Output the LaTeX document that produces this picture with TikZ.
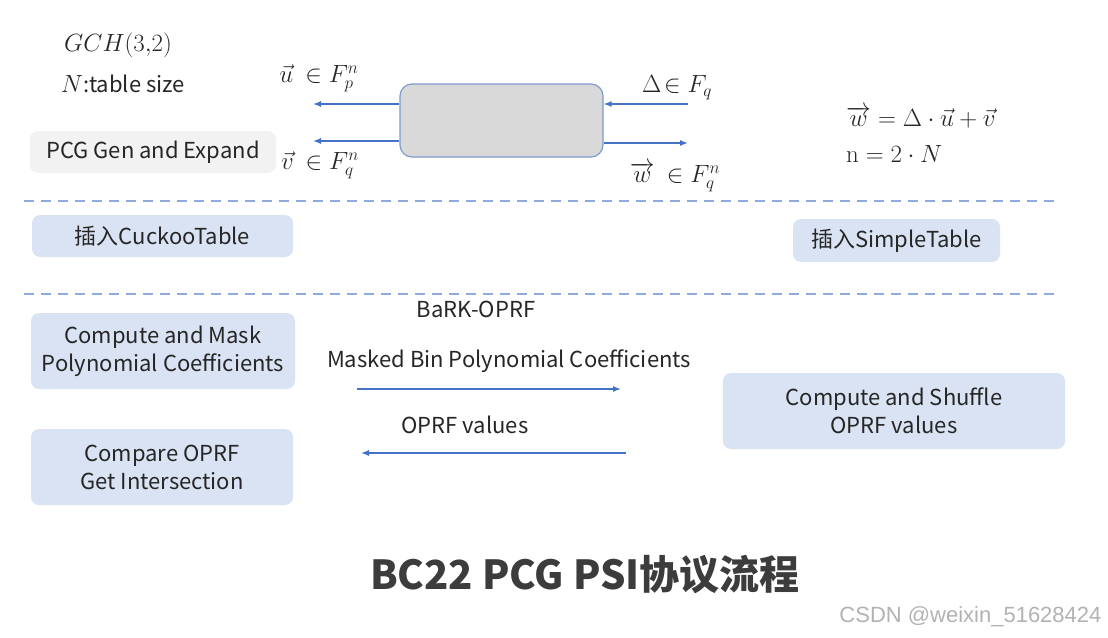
\documentclass[tikz,border=0pt]{standalone}
\usepackage{amsmath,amssymb,bm}
\usepackage[no-math]{fontspec}
\setmainfont{Noto Sans CJK SC}
\newfontfamily\markfont{Liberation Sans}
\usetikzlibrary{arrows.meta,positioning}
\definecolor{flowblue}{HTML}{4472C4}
\definecolor{lineblue}{HTML}{8FAADC}
\definecolor{edgeblue}{HTML}{7F9BCB}
\definecolor{boxblue}{HTML}{DAE3F3}
\definecolor{boxgray}{HTML}{F2F2F2}
\definecolor{pcggray}{HTML}{D9D9D9}
\definecolor{ink}{HTML}{262626}

\begin{document}
\begin{tikzpicture}[x=1pt,y=-1pt,>={Latex[length=8pt,width=6pt]},
  every node/.style={text=ink,font=\fontsize{22}{28}\selectfont},
  box/.style={fill=boxblue,rounded corners=8pt,inner sep=0pt,align=center},
  lab/.style={inner sep=1pt,font=\fontsize{23}{28}\selectfont},
  flow/.style={->,draw=flowblue,line width=1.3pt},
  sep/.style={draw=lineblue,line width=1.4pt,dash pattern=on 10pt off 7pt}]
\useasboundingbox (0,0) rectangle (1108,637);
% PCG part
\node[lab] (gch) at (118,45) {$GCH(3{,}2)$};
\node[lab] (tsize) at (123,84) {$N$\fontsize{22}{28}\selectfont:table size};
\node[box,fill=boxgray,minimum width=246pt,minimum height=42pt] (gen) at (153,152) {PCG Gen and Expand};
\node[box,fill=pcggray,draw=edgeblue,line width=1.2pt,rounded corners=12pt,minimum width=203pt,minimum height=73pt] (pcg) at (501.5,120.5) {};
\coordinate (uend) at (313,104);
\coordinate (vend) at (313,141);
\coordinate (dstart) at (688,104);
\coordinate (wend) at (688,143);
\draw[flow] (pcg.west |- uend)--(uend);
\draw[flow] (pcg.west |- vend)--(vend);
\draw[flow] (dstart)--(pcg.east |- dstart);
\draw[flow] (pcg.east |- wend)--(wend);
\node[lab] (ulab) at (319,78) {$\vec{u}\ \in F_p^n$};
\node[lab] (vlab) at (320,165) {$\vec{v}\ \in F_q^n$};
\node[lab] (dlab) at (677,88) {$\Delta\!\in F_q$};
\node[lab] (wlab) at (675,177) {$\overrightarrow{w}\ \in F_q^n$};
\node[lab,anchor=west] (wdef) at (845,117) {$\overrightarrow{w}=\Delta\cdot\vec{u}+\vec{v}$};
\node[lab,anchor=west] (ndef) at (845,154) {$\mathrm{n}=2\cdot N$};
\foreach \y in {201,294} \draw[sep] (24,\y)--(1057,\y);
% tables
\node[box,minimum width=261pt,minimum height=42pt] (cuckoo) at (162.5,236) {插入CuckooTable};
\node[box,minimum width=207pt,minimum height=43pt] (simple) at (896.5,240.5) {插入SimpleTable};
% OPRF part
\node[box,minimum width=264pt,minimum height=76pt] (mask) at (163,351) {Compute and Mask\\Polynomial Coefficients};
\node[box,minimum width=262pt,minimum height=76pt] (compare) at (162,467) {Compare OPRF\\Get Intersection};
\node[box,minimum width=342pt,minimum height=76pt] (shuffle) at (894,411) {Compute and Shuffle\\OPRF values};
\node (bark) at (476,309) {BaRK-OPRF};
\node (masked) at (509,361) {Masked Bin Polynomial Coefficients};
\node (oprf) at (465,425) {OPRF values};
\coordinate (mstart) at (357,389);
\coordinate (mend) at (621,389);
\coordinate (ostart) at (626,453);
\coordinate (oend) at (361,453);
\draw[flow] (mstart)--(mend);
\draw[flow] (ostart)--(oend);
\node[font=\fontsize{40}{48}\selectfont\bfseries,text=ink!90] (title) at (585,575) {BC22 PCG PSI协议流程};
\node[anchor=east,font=\markfont\fontsize{22}{24}\selectfont,text=black!30] (mark) at (1105,617) {CSDN @weixin\_51628424};
\end{tikzpicture}
\end{document}
